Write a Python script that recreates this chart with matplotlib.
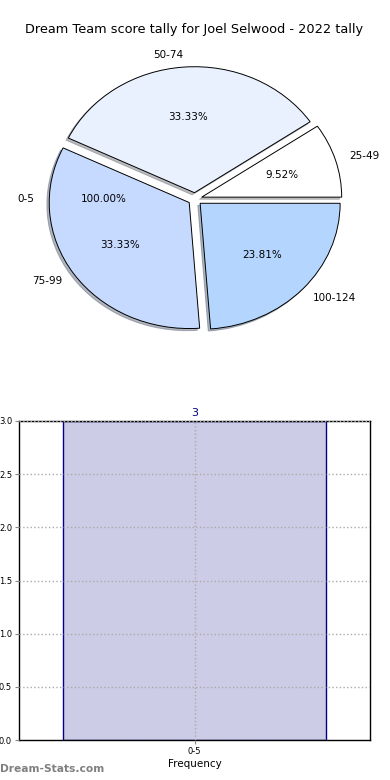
import matplotlib
matplotlib.use("Agg")
import matplotlib.pyplot as plt

# ---- data ----
title = "Dream Team score tally for Joel Selwood - 2022 tally"
pie_labels = ["25-49", "50-74", "75-99", "100-124"]
pie_values = [2, 7, 7, 5]
pie_colors = ["#ffffff", "#e9f0fe", "#c6d9fe", "#b4d6fe"]
extra_label = ["0-5"]
extra_value = [1]

bar_categories = ["0-5"]
bar_values = [3]
yticks = [0.0, 0.5, 1.0, 1.5, 2.0, 2.5, 3.0]

fig = plt.figure(figsize=(3.9, 7.8), dpi=100)

# ---- pie ----
axp = fig.add_axes([0, 1 - 360 / 780, 1, 320 / 780])
# single-slice overlay pie (invisible wedge, visible labels)
axp.pie(extra_value, labels=extra_label, autopct="%1.2f%%", explode=[0.05],
        colors=["none"], wedgeprops=dict(linewidth=0, edgecolor="none"),
        textprops=dict(fontsize=7.5), startangle=0)
axp.pie(pie_values, labels=pie_labels, colors=pie_colors, autopct="%1.2f%%",
        explode=[0.05] * len(pie_values),
        shadow=dict(ox=-0.012, oy=-0.012, shade=0.5), startangle=0,
        wedgeprops=dict(edgecolor="black", linewidth=0.7),
        textprops=dict(fontsize=7.5))
axp.set_aspect("auto")
axp.set_xlim(-195 / 140, 195 / 140)
axp.set_ylim(-(360 - 199) / 126, (199 - 40) / 126)
axp.axis("off")

fig.text(194 / 390, 1 - 30 / 780, title, ha="center", va="center", fontsize=9.3)

# ---- bar ----
axb = fig.add_axes([19 / 390, 1 - 740 / 780, 351 / 390, 319 / 780])
x = list(range(len(bar_categories)))
bars = axb.bar(x, bar_values, width=0.8, color="#ccccE6", edgecolor="#00008b",
               linewidth=1.0, zorder=2)
for xi, v in zip(x, bar_values):
    axb.text(xi, v + 0.03, str(v), ha="center", va="bottom", color="#000080",
             fontsize=8)
axb.set_xlim(-0.532, 0.532)
axb.set_ylim(0, 3.0)
axb.set_yticks(yticks)
axb.set_yticklabels([f"{t:.1f}" for t in yticks])
axb.set_xticks(x)
axb.set_xticklabels(bar_categories)
axb.tick_params(labelsize=6, length=3, color="#888888", pad=2)
axb.grid(True, linestyle=":", color="#aaaaaa", linewidth=1.0, zorder=3)
axb.set_axisbelow(False)
for s in axb.spines.values():
    s.set_linewidth(1.0)
    s.set_color("black")
axb.set_xlabel("Frequency", fontsize=7.5, labelpad=2)

fig.text(0.0, 1 - 769 / 780, "Dream-Stats.com", color="#808080", fontsize=7.7,
         ha="left", va="center", fontweight="semibold")

fig.savefig("out.png", dpi=100)
